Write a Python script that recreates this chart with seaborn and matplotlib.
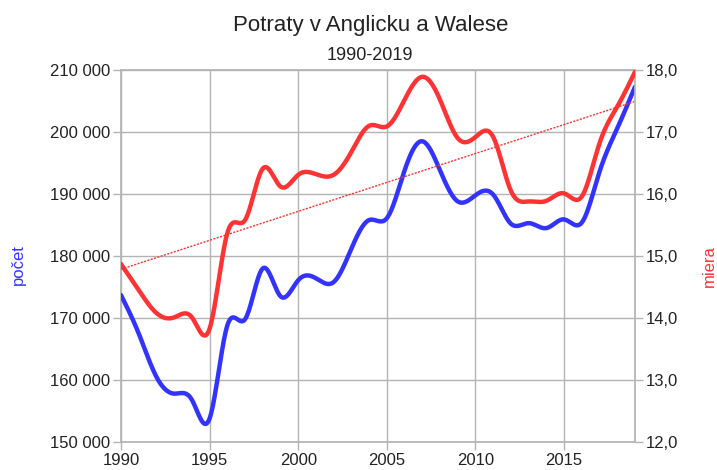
import numpy as np
import pandas as pd
import matplotlib
matplotlib.use("Agg")
import matplotlib.pyplot as plt
import seaborn as sns
from matplotlib.ticker import FuncFormatter, MultipleLocator

# ---- data ----
years = list(range(1990, 2020))
pocet = [173700, 167500, 160500, 157800, 156800, 153800, 168800, 169800, 178000, 173500,
         176100, 176400, 175800, 181200, 185800, 186100, 193800, 198500, 193800, 188800,
         189800, 189900, 185200, 185300, 184500, 185900, 185400, 193600, 200600, 207300]
miera = [14.87, 14.45, 14.08, 14.01, 14.01, 13.83, 15.37, 15.58, 16.41, 16.12,
         16.31, 16.32, 16.31, 16.68, 17.10, 17.09, 17.52, 17.89, 17.52, 16.90,
         16.92, 16.92, 16.05, 15.88, 15.89, 16.01, 15.96, 16.82, 17.41, 17.97]
title = "Potraty v Anglicku a Walese"
subtitle = "1990-2019"
left_label = "počet"
right_label = "miera"

BLUE = "#3333ff"
RED = "#ff3333"
GRID = "#b3b3b3"
TXT = "#222222"


def natural_spline(x, y, n=600):
    x = np.asarray(x, float)
    y = np.asarray(y, float)
    k = len(x)
    h = np.diff(x)
    A = np.zeros((k, k))
    b = np.zeros(k)
    A[0, 0] = A[-1, -1] = 1
    for i in range(1, k - 1):
        A[i, i - 1] = h[i - 1]
        A[i, i] = 2 * (h[i - 1] + h[i])
        A[i, i + 1] = h[i]
        b[i] = 3 * ((y[i + 1] - y[i]) / h[i] - (y[i] - y[i - 1]) / h[i - 1])
    c = np.linalg.solve(A, b)
    xs = np.linspace(x[0], x[-1], n)
    idx = np.clip(np.searchsorted(x, xs) - 1, 0, k - 2)
    dx = xs - x[idx]
    bb = (y[1:] - y[:-1]) / h - h * (2 * c[:-1] + c[1:]) / 3
    d = (c[1:] - c[:-1]) / (3 * h)
    ys = y[idx] + bb[idx] * dx + c[idx] * dx ** 2 + d[idx] * dx ** 3
    return xs, ys


sns.set_theme(style="white")
plt.rcParams["font.family"] = ["Liberation Sans", "DejaVu Sans"]

fig = plt.figure(figsize=(7.17, 4.70), dpi=100)
W, H = 717, 470
ax = fig.add_axes([121 / W, 1 - 442 / H, (635 - 121) / W, (442 - 70) / H])
ax2 = ax.twinx()

xs, ys = natural_spline(years, pocet)
df1 = pd.DataFrame({"rok": xs, "pocet": ys})
xs2, ys2 = natural_spline(years, miera)
df2 = pd.DataFrame({"rok": xs2, "miera": ys2})

# trend line of miera (linear regression)
coef = np.polyfit(years, miera, 1)
trend = pd.DataFrame({"rok": [years[0], years[-1]],
                      "t": np.polyval(coef, [years[0], years[-1]])})

sns.lineplot(data=df1, x="rok", y="pocet", ax=ax, color=BLUE, linewidth=3.2, zorder=3)
sns.lineplot(data=df2, x="rok", y="miera", ax=ax2, color=RED, linewidth=3.2, zorder=3)
sns.lineplot(data=trend, x="rok", y="t", ax=ax2, color=RED, linewidth=1.0,
             linestyle=(0, (1.5, 1.0)), zorder=2)

ax.set_xlim(1990, 2019)
ax.set_ylim(150000, 210000)
ax2.set_ylim(12, 18)
ax.xaxis.set_major_locator(MultipleLocator(5))
ax.yaxis.set_major_locator(MultipleLocator(10000))
ax2.yaxis.set_major_locator(MultipleLocator(1))
ax.yaxis.set_major_formatter(FuncFormatter(lambda v, p: f"{v:,.0f}".replace(",", " ")))
ax2.yaxis.set_major_formatter(FuncFormatter(lambda v, p: f"{v:.1f}".replace(".", ",")))
ax.xaxis.set_major_formatter(FuncFormatter(lambda v, p: f"{int(v)}"))

ax.grid(True, color=GRID, linewidth=1)
ax2.grid(False)
ax.set_axisbelow(True)
for a in (ax, ax2):
    for s in a.spines.values():
        s.set_visible(False)
    a.set_xlabel("")
    a.set_ylabel("")
ax.spines["bottom"].set_visible(True)
ax.spines["bottom"].set_color(GRID)
ax.spines["left"].set_visible(True)
ax.spines["left"].set_color(GRID)
ax2.spines["right"].set_visible(True)
ax2.spines["right"].set_color(GRID)
ax.spines["top"].set_visible(True)
ax.spines["top"].set_color(GRID)

ax.tick_params(axis="both", which="major", direction="out", length=6, width=1,
               color=GRID, labelsize=12, labelcolor=TXT, pad=2, left=True, bottom=True)
ax2.tick_params(axis="y", which="major", direction="out", length=6, width=1,
                color=GRID, labelsize=12, labelcolor=TXT, pad=2, right=True)
ax.set_zorder(ax2.get_zorder() - 1)
ax.patch.set_visible(True)
ax2.patch.set_visible(False)
# keep blue curve visible above grid of ax: draw ax above ax2 instead
ax.set_zorder(1)
ax2.set_zorder(2)
ax.patch.set_visible(False)

fig.text(370.5 / W, 1 - 31 / H, title, ha="center", va="baseline", fontsize=16, color=TXT)
fig.text(370 / W, 1 - 60 / H, subtitle, ha="center", va="baseline", fontsize=13, color=TXT)
fig.text(18 / W, 1 - 265 / H, left_label, rotation=90, ha="center", va="center",
         fontsize=12, color=BLUE)
fig.text(709 / W, 1 - 266 / H, right_label, rotation=90, ha="center", va="center",
         fontsize=12, color=RED)

fig.savefig("out.png", dpi=100, facecolor="white")
